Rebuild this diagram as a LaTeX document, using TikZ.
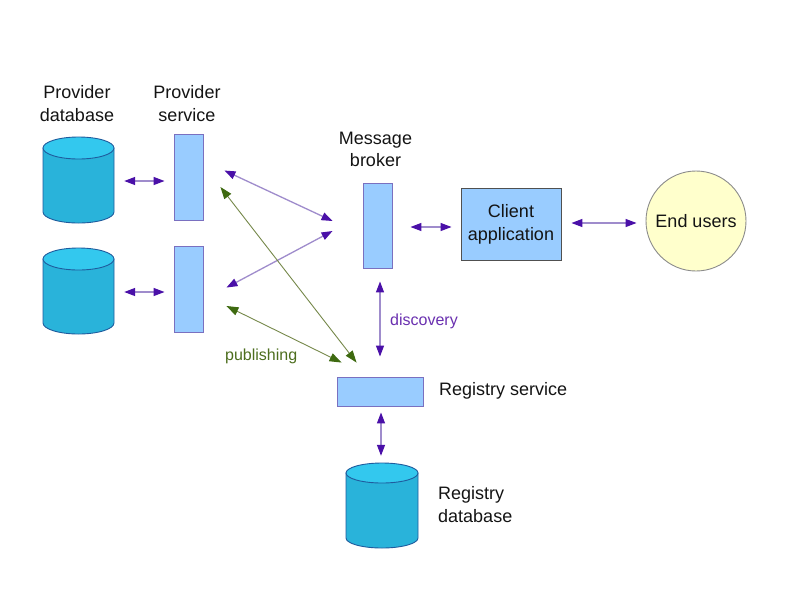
\documentclass[tikz,border=0pt]{standalone}
\usepackage{fontspec}
\setmainfont{Liberation Sans}
\usetikzlibrary{arrows.meta,calc}
\definecolor{dbbody}{HTML}{29B3DA}
\definecolor{dbtop}{HTML}{33C8EE}
\definecolor{dbline}{HTML}{1F5C9E}
\definecolor{boxfill}{HTML}{99CCFF}
\definecolor{boxline}{HTML}{7A70C0}
\definecolor{caline}{HTML}{505050}
\definecolor{eufill}{HTML}{FFFFCC}
\definecolor{euline}{HTML}{8C8C8C}
\definecolor{pline}{HTML}{9F8CCC}
\definecolor{phead}{HTML}{4A10A8}
\definecolor{gline}{HTML}{76884A}
\definecolor{ghead}{HTML}{3E6A10}
\definecolor{ptext}{HTML}{6A30B0}
\definecolor{gtext}{HTML}{4D6E1E}
\newcommand{\mydbcyl}[5]{% cx, rx, ytop, ybot, ry
  \path[fill=dbbody,draw=dbline,line width=0.9pt]
    ({#1-#2},#3) -- ({#1-#2},#4)
    .. controls ({#1-#2},{#4+0.5523*#5}) and ({#1-0.5523*#2},{#4+#5}) .. (#1,{#4+#5})
    .. controls ({#1+0.5523*#2},{#4+#5}) and ({#1+#2},{#4+0.5523*#5}) .. ({#1+#2},#4)
    -- ({#1+#2},#3) -- cycle;
  \path[fill=dbtop,draw=dbline,line width=0.9pt] (#1,#3) ellipse [x radius=#2, y radius=#5];
}
\tikzset{
  txt/.style={font=\fontsize{18}{23}\selectfont, inner sep=0pt, align=center, text=black!92},
  small/.style={font=\fontsize{16}{20}\selectfont, inner sep=0pt},
  dbbox/.style={inner sep=0pt, draw=none},
  svcbox/.style={fill=boxfill, draw=boxline, line width=0.9pt, inner sep=0pt},
  purplearrow/.style={draw=pline, line width=1.3pt,
    arrows={Triangle[length=11pt,width=8pt,color=phead]-Triangle[length=11pt,width=8pt,color=phead]}},
  greenarrow/.style={draw=gline, line width=0.9pt,
    arrows={Triangle[length=12pt,width=8.5pt,color=ghead]-Triangle[length=12pt,width=8.5pt,color=ghead]}}
}
\begin{document}
\begin{tikzpicture}[x=1pt,y=-1pt]
\useasboundingbox[fill=white] (0,0) rectangle (800,600);

% databases
\mydbcyl{78.5}{35.5}{148}{212}{11}
\mydbcyl{78.5}{35.5}{259}{323}{11}
\mydbcyl{382}{36}{473}{538}{10}
\node[dbbox, minimum width=71pt, minimum height=86pt] (db1) at (78.5,180) {};
\node[dbbox, minimum width=71pt, minimum height=86pt] (db2) at (78.5,291) {};
\node[dbbox, minimum width=72pt, minimum height=85pt] (db3) at (382,505.5) {};

% service boxes
\node[svcbox, minimum width=29pt, minimum height=86pt] (ps1) at (188.5,177) {};
\node[svcbox, minimum width=29pt, minimum height=86pt] (ps2) at (188.5,289) {};
\node[svcbox, minimum width=29pt, minimum height=85pt] (mb) at (377.5,225.5) {};
\node[svcbox, minimum width=86pt, minimum height=29pt] (rs) at (380,391.5) {};
\node[fill=boxfill, draw=caline, line width=0.9pt, minimum width=100pt, minimum height=72pt, txt] (ca) at (511,224) {Client\\application};
\node[circle, fill=eufill, draw=euline, line width=0.9pt, minimum size=100pt, txt] (eu) at (696,221) {End users};

% texts
\node[txt, anchor=north] (t1) at (77,85) {Provider\\database};
\node[txt, anchor=north] (t2) at (187,85) {Provider\\service};
\node[txt, anchor=north, font=\fontsize{18}{22}\selectfont] (t3) at (375.5,132) {Message\\broker};
\node[txt, anchor=base west] (t4) at (439,395) {Registry service};
\node[txt, anchor=north west, align=left] (t5) at (438,486) {Registry\\database};
\node[small, text=ptext, anchor=base west] (l1) at (390,325) {discovery};
\node[small, text=gtext, anchor=base west] (l2) at (225,360) {publishing};

% connectors
\draw[purplearrow] ($(db1.east)+(10,1)$) -- ($(ps1.west)+(-9,4)$);
\draw[purplearrow] ($(db2.east)+(10,1)$) -- ($(ps2.west)+(-9,3)$);
\draw[purplearrow] ($(ps1.north east)+(21,37)$) -- ($(mb.west)+(-30,-4.5)$);
\draw[purplearrow] ($(mb.west)+(-30,5.5)$) -- ($(ps2.north east)+(23,42)$);
\draw[greenarrow] ($(ps1.east)+(17,10)$) -- ($(rs.north west)+(20,-14)$);
\draw[greenarrow] ($(ps2.east)+(23,17)$) -- ($(rs.north west)+(5,-14)$);
\draw[purplearrow] ($(mb.south)+(2.5,13)$) -- ($(rs.north)+(0,-20)$);
\draw[purplearrow] ($(rs.south)+(1,6)$) -- ($(db3.north)+(-1,-7)$);
\draw[purplearrow] ($(mb.east)+(18,1.5)$) -- ($(ca.west)+(-9,3)$);
\draw[purplearrow] ($(ca.east)+(10,-1)$) -- ($(eu.west)+(-9,2)$);
\end{tikzpicture}
\end{document}
